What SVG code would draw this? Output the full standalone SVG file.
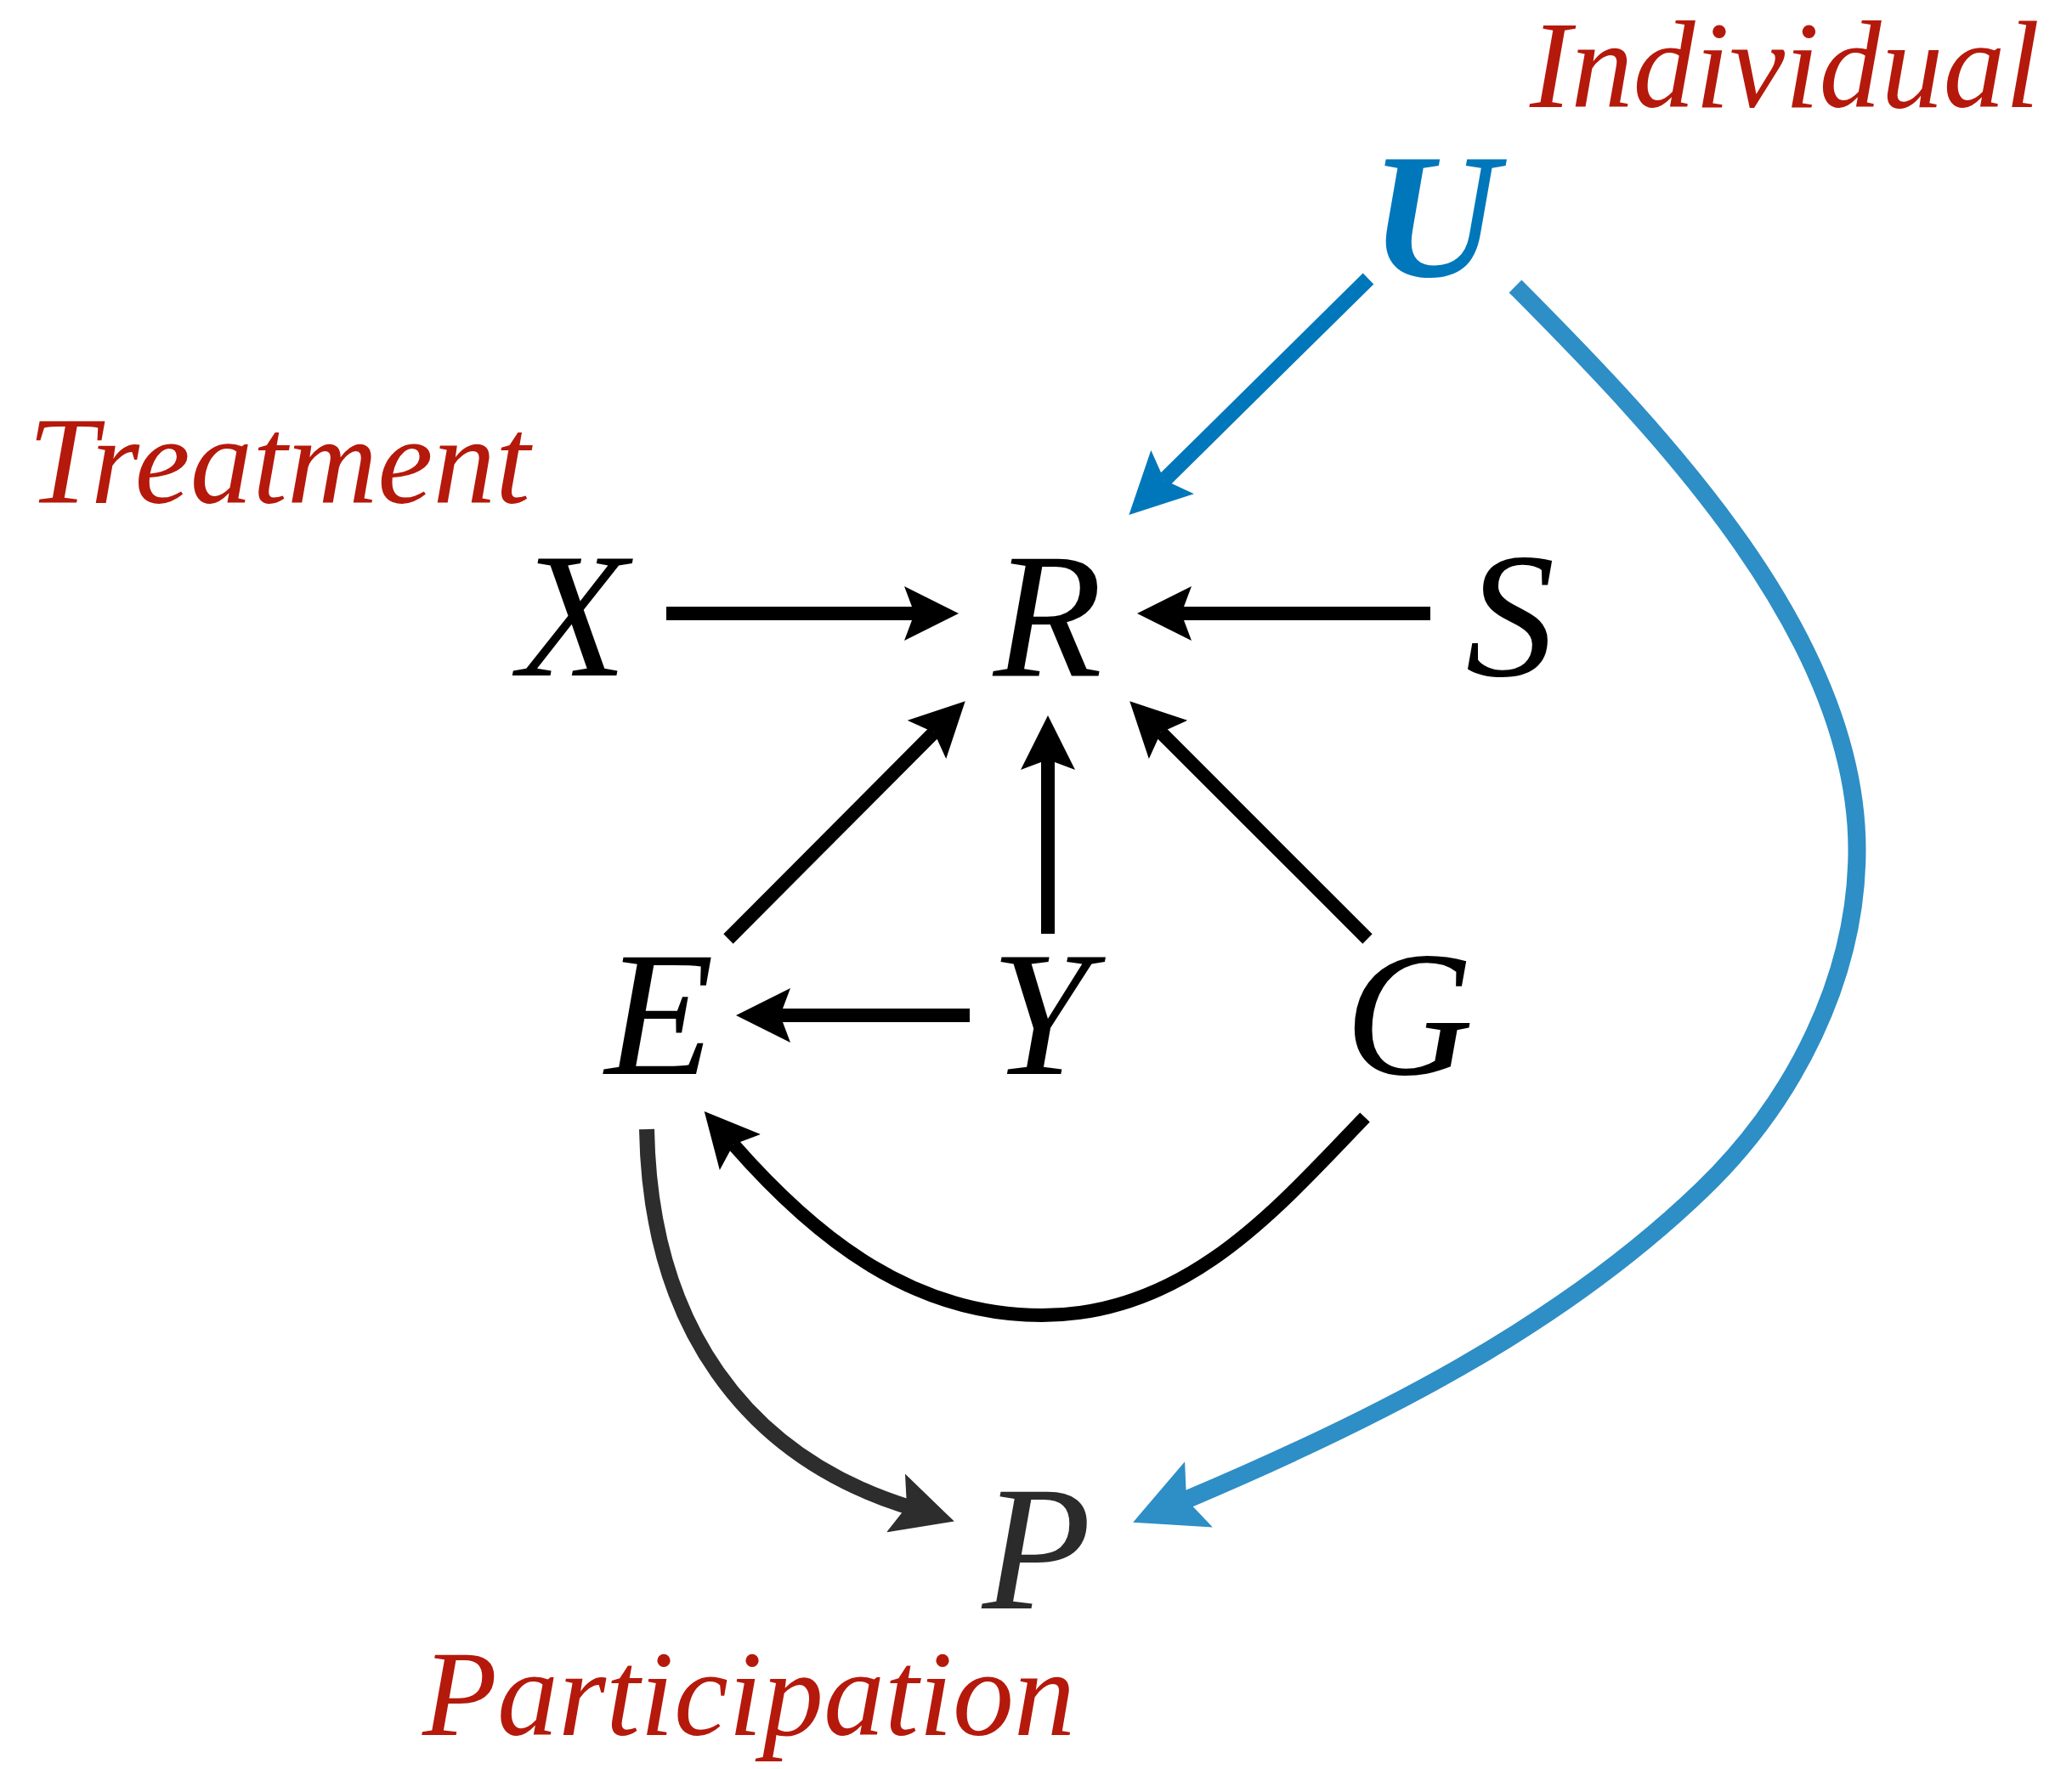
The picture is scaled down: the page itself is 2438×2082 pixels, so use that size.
<svg xmlns="http://www.w3.org/2000/svg" width="2438" height="2082" viewBox="0 0 2438 2082">
<style>
.node{font-family:"Liberation Serif","Times New Roman",serif;font-style:italic;font-size:210px;text-anchor:middle;fill:#000}
.lbl{font-family:"Liberation Serif","Times New Roman",serif;font-style:italic;font-size:147px;fill:#B5190B}
.e{fill:none;stroke-linecap:butt}
.k{stroke:#000;stroke-width:16}
.b{stroke:#0077BB;stroke-width:18}
.lb{stroke:#2E8EC6;stroke-width:21}
.g{stroke:#2D2D2D;stroke-width:18}
</style>
<defs>
<marker id="hk" viewBox="0 -2 4 4" markerWidth="4" markerHeight="4" refX="0.75" refY="0" orient="auto" markerUnits="strokeWidth"><path d="M0,-2 L4,0 L0,2 L0.75,0 Z" fill="#000"/></marker>
<marker id="hb" viewBox="0 -2 4 4" markerWidth="4" markerHeight="4" refX="0.75" refY="0" orient="auto" markerUnits="strokeWidth"><path d="M0,-2 L4,0 L0,2 L0.75,0 Z" fill="#0077BB"/></marker>
<marker id="hlb" viewBox="0 -2 4 4" markerWidth="4" markerHeight="4" refX="0.75" refY="0" orient="auto" markerUnits="strokeWidth"><path d="M0,-2 L4,0 L0,2 L0.75,0 Z" fill="#2E8EC6"/></marker>
<marker id="hg" viewBox="0 -2 4 4" markerWidth="4" markerHeight="4" refX="0.75" refY="0" orient="auto" markerUnits="strokeWidth"><path d="M0,-2 L4,0 L0,2 L0.75,0 Z" fill="#2D2D2D"/></marker>
</defs>
<rect width="2438" height="2082" fill="#fff"/>
<g id="labels">
<text class="lbl" x="1800" y="126" style="font-size:146px">Individual</text>
<text class="lbl" x="33" y="592">Treatment</text>
<text class="lbl" x="497" y="2042" style="font-size:144px">Participation</text>
</g>
<g id="node-U"><text class="node" x="1688" y="325" style="font-weight:bold;fill:#0077BB">U</text></g>
<g id="node-X"><text class="node" x="674" y="795">X</text></g>
<g id="node-R"><text class="node" x="1233" y="795">R</text></g>
<g id="node-S"><text class="node" x="1777" y="795">S</text></g>
<g id="node-E"><text class="node" x="776" y="1264">E</text></g>
<g id="node-Y"><text class="node" x="1224" y="1264">Y</text></g>
<g id="node-G"><text class="node" x="1658" y="1264">G</text></g>
<g id="node-P"><text class="node" x="1220" y="1893" style="fill:#2B2B2B">P</text></g>
<g id="connectors">
<path class="e k" d="M784,722 L1076,722" marker-end="url(#hk)"/>
<path class="e k" d="M1683,722 L1390,722" marker-end="url(#hk)"/>
<path class="e k" d="M1141,1195 L918,1195" marker-end="url(#hk)"/>
<path class="e k" d="M1233,1099 L1233,894" marker-end="url(#hk)"/>
<path class="e k" d="M857,1105 L1099,862" marker-end="url(#hk)"/>
<path class="e k" d="M1609,1105 L1366,862" marker-end="url(#hk)"/>
<path class="e b" d="M1610,328 L1370,565" marker-end="url(#hb)"/>
<path class="e k" d="M1606,1315 C1502,1423 1396,1548 1226,1548 C1076,1548 962,1460 863,1347" marker-end="url(#hk)"/>
<path class="e g" d="M761,1329 C765,1560 877,1713 1067,1773" marker-end="url(#hg)"/>
<path class="e lb" d="M1783,337 C1959,514 2185,750 2185,1000 C2185,1150 2111,1296 2003,1400 C1833,1564 1613,1673 1396,1765" marker-end="url(#hlb)"/>
</g>
</svg>
